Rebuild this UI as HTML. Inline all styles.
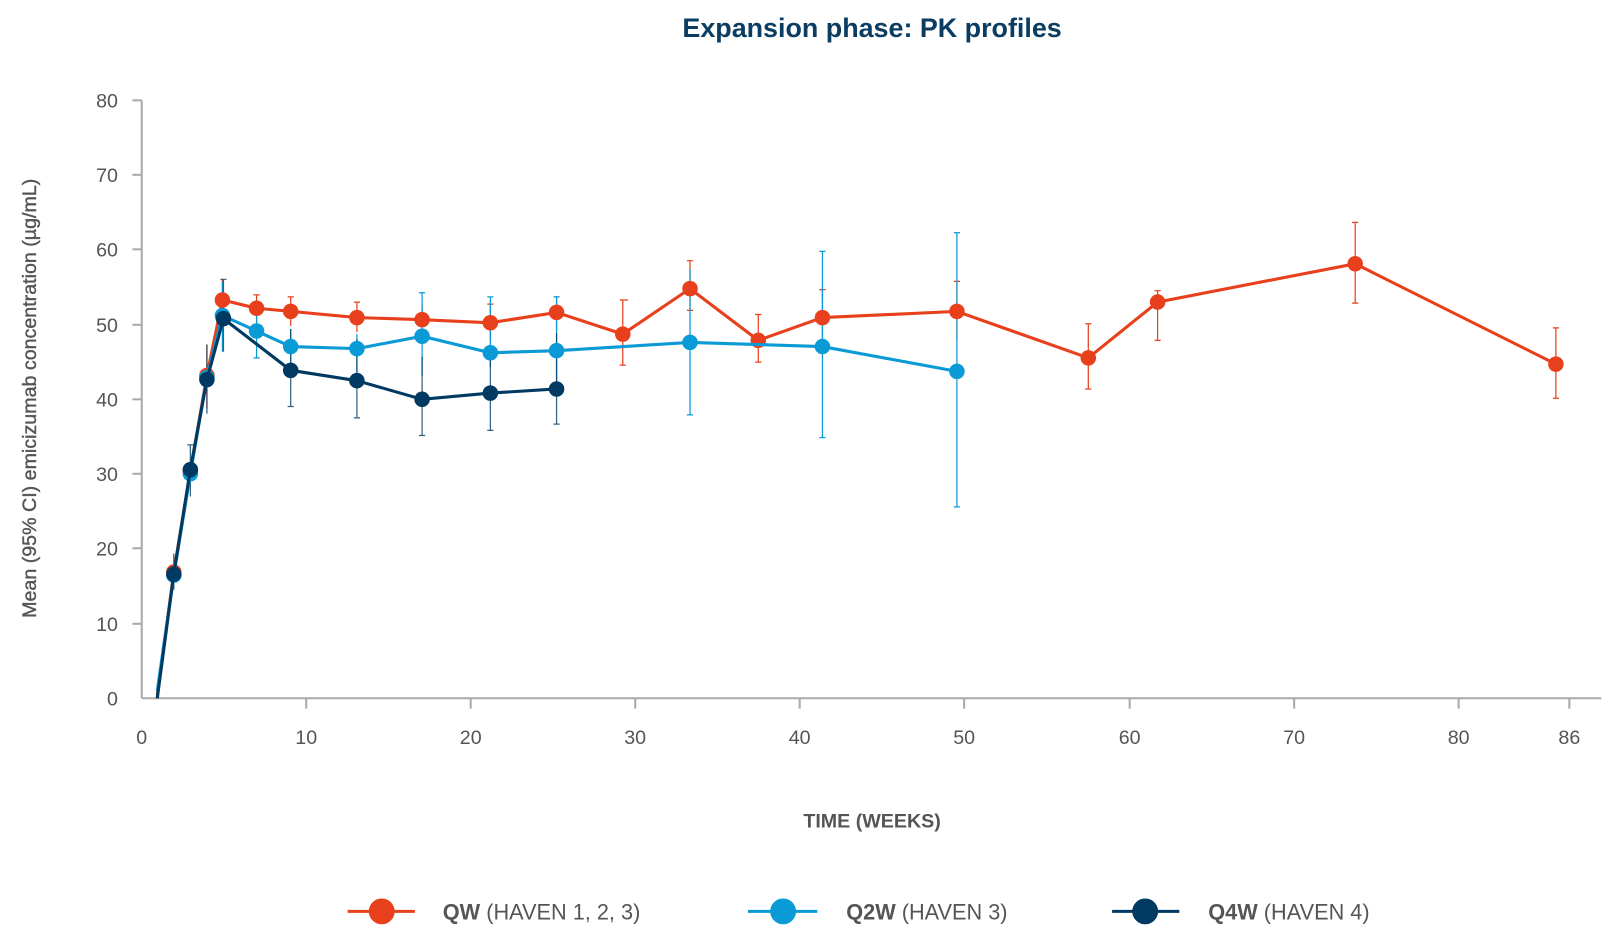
<!DOCTYPE html>
<html><head><meta charset="utf-8"><style>body{margin:0;background:#fff}svg{display:block}text{font-family:"Liberation Sans",sans-serif}</style></head><body>
<svg width="1619" height="930" viewBox="0 0 1565 899" xmlns="http://www.w3.org/2000/svg">
<text x="843" y="36" text-anchor="middle" font-size="26" font-weight="bold" fill="#0b3d63">Expansion phase: PK profiles</text>
<g stroke="#aaa" stroke-width="2" fill="none">
<line x1="137" y1="97" x2="137" y2="675"/><line x1="137" y1="675" x2="1548" y2="675"/>
<line x1="128" y1="97" x2="137" y2="97"/><line x1="128" y1="169" x2="137" y2="169"/><line x1="128" y1="241" x2="137" y2="241"/><line x1="128" y1="314" x2="137" y2="314"/><line x1="128" y1="386" x2="137" y2="386"/><line x1="128" y1="458" x2="137" y2="458"/><line x1="128" y1="530" x2="137" y2="530"/><line x1="128" y1="603" x2="137" y2="603"/>
<line x1="296" y1="675" x2="296" y2="685"/><line x1="455" y1="675" x2="455" y2="685"/><line x1="614" y1="675" x2="614" y2="685"/><line x1="773" y1="675" x2="773" y2="685"/><line x1="932" y1="675" x2="932" y2="685"/><line x1="1092" y1="675" x2="1092" y2="685"/><line x1="1251" y1="675" x2="1251" y2="685"/><line x1="1410" y1="675" x2="1410" y2="685"/><line x1="1517" y1="675" x2="1517" y2="685"/>
</g>
<g font-size="19" fill="#555" text-anchor="end">
<text x="114" y="104">80</text><text x="114" y="176">70</text><text x="114" y="248">60</text><text x="114" y="321">50</text><text x="114" y="393">40</text><text x="114" y="465">30</text><text x="114" y="537">20</text><text x="114" y="610">10</text><text x="114" y="682">0</text>
</g>
<g font-size="19" fill="#555" text-anchor="middle">
<text x="137" y="719">0</text><text x="296" y="719">10</text><text x="455" y="719">20</text><text x="614" y="719">30</text><text x="773" y="719">40</text><text x="932" y="719">50</text><text x="1092" y="719">60</text><text x="1251" y="719">70</text><text x="1410" y="719">80</text><text x="1517" y="719">86</text>
</g>
<text x="843" y="800" text-anchor="middle" font-size="19" font-weight="bold" fill="#555">TIME (WEEKS)</text>
<text transform="translate(35,385) rotate(-90)" text-anchor="middle" font-size="19" fill="#555" stroke="#555" stroke-width="0.4">Mean (95% CI) emicizumab concentration (µg/mL)</text>
<g stroke="#e8401c" stroke-width="1.2" fill="none">
<path d="M215 270V310M248 285V312M281 287V315M345 292V321M408 296V321M474 294V330M538 286V320M602 290V353M667 252V300M733 304V350M795 280V335M925 272V328M1052 313V376M1119 281V329M1310 215V293M1504 317V385M200 333V395"/>
<path d="M602 290h5M599 290h3M599 353h6M664 252h6M664 300h6M730 304h6M730 350h6M792 280h6M922 272h6M1049 313h6M1049 376h6M1116 281h6M1116 329h6M1307 215h6M1307 293h6M1501 317h6M1501 385h6M342 292h6M471 294h6M245 285h6M278 287h6"/>
</g>
<g stroke="#0a9ad6" stroke-width="1.2" fill="none">
<path d="M667 260V401M795 243V423M925 225V490M408 283V363M474 287V355M538 287V370M281 318V365M248 305V346M345 323V360M215 272V340"/>
<path d="M664 401h6M792 243h6M792 423h6M922 225h6M922 490h6M405 283h6M471 287h6M535 287h6M245 346h6"/>
</g>
<g stroke="#003a63" stroke-width="1.2" fill="none" opacity="0.8">
<path d="M216 270V340M281 318V393M345 328V404M408 345V421M474 338V416M538 322V410M184 430V480M200 333V400M168 535V570"/>
<path d="M213 270h6M278 393h6M342 404h6M405 421h6M471 416h6M535 410h6M181 430h6"/>
</g>
<polyline fill="none" stroke="#e8401c" stroke-width="3" points="152,672 168,553 184,455 200,363 215,290 248,298 281,301 345,307 408,309 474,312 538,302 602,323 667,279 733,329 795,307 925,301 1052,346 1119,292 1310,255 1504,352"/>
<g fill="#e8401c"><circle cx="168" cy="553" r="7.5"/><circle cx="184" cy="455" r="7.5"/><circle cx="200" cy="363" r="7.5"/><circle cx="215" cy="290" r="7.5"/><circle cx="248" cy="298" r="7.5"/><circle cx="281" cy="301" r="7.5"/><circle cx="345" cy="307" r="7.5"/><circle cx="408" cy="309" r="7.5"/><circle cx="474" cy="312" r="7.5"/><circle cx="538" cy="302" r="7.5"/><circle cx="602" cy="323" r="7.5"/><circle cx="667" cy="279" r="7.5"/><circle cx="733" cy="329" r="7.5"/><circle cx="795" cy="307" r="7.5"/><circle cx="925" cy="301" r="7.5"/><circle cx="1052" cy="346" r="7.5"/><circle cx="1119" cy="292" r="7.5"/><circle cx="1310" cy="255" r="7.5"/><circle cx="1504" cy="352" r="7.5"/></g>
<polyline fill="none" stroke="#0a9ad6" stroke-width="3" points="152,668 168,556 184,458 200,365 215,305 248,320 281,335 345,337 408,325 474,341 538,339 667,331 795,335 925,359"/>
<g fill="#0a9ad6"><circle cx="168" cy="556" r="7.5"/><circle cx="184" cy="458" r="7.5"/><circle cx="200" cy="365" r="7.5"/><circle cx="215" cy="305" r="7.5"/><circle cx="248" cy="320" r="7.5"/><circle cx="281" cy="335" r="7.5"/><circle cx="345" cy="337" r="7.5"/><circle cx="408" cy="325" r="7.5"/><circle cx="474" cy="341" r="7.5"/><circle cx="538" cy="339" r="7.5"/><circle cx="667" cy="331" r="7.5"/><circle cx="795" cy="335" r="7.5"/><circle cx="925" cy="359" r="7.5"/></g>
<polyline fill="none" stroke="#003a63" stroke-width="3" points="152,675 168,555 184,454 200,367 216,308 281,358 345,368 408,386 474,380 538,376"/>
<g fill="#003a63"><circle cx="168" cy="555" r="7.5"/><circle cx="184" cy="454" r="7.5"/><circle cx="200" cy="367" r="7.5"/><circle cx="216" cy="308" r="7.5"/><circle cx="281" cy="358" r="7.5"/><circle cx="345" cy="368" r="7.5"/><circle cx="408" cy="386" r="7.5"/><circle cx="474" cy="380" r="7.5"/><circle cx="538" cy="376" r="7.5"/></g>
<g font-size="21" fill="#555">
<line x1="336" y1="881" x2="401" y2="881" stroke="#e8401c" stroke-width="3"/><circle cx="369" cy="881" r="12.5" fill="#e8401c"/>
<text x="428" y="889"><tspan font-weight="bold">QW</tspan> (HAVEN 1, 2, 3)</text>
<line x1="723" y1="881" x2="790" y2="881" stroke="#0a9ad6" stroke-width="3"/><circle cx="757" cy="881" r="12.5" fill="#0a9ad6"/>
<text x="818" y="889"><tspan font-weight="bold">Q2W</tspan> (HAVEN 3)</text>
<line x1="1075" y1="881" x2="1140" y2="881" stroke="#003a63" stroke-width="3"/><circle cx="1107" cy="881" r="12.5" fill="#003a63"/>
<text x="1168" y="889"><tspan font-weight="bold">Q4W</tspan> (HAVEN 4)</text>
</g>
</svg>
</body></html>
